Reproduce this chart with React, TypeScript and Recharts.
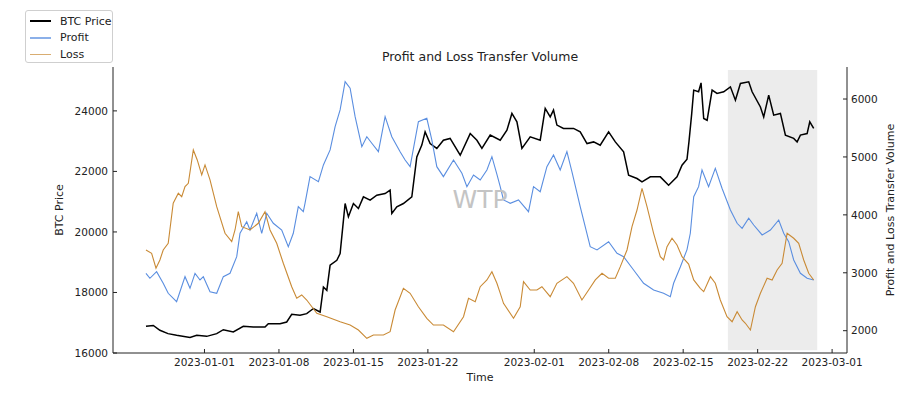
import React from "react";
import {
  ComposedChart,
  Line,
  XAxis,
  YAxis,
  Legend,
  ReferenceArea,
  ReferenceDot,
} from "recharts";

// x = Tage seit 2023-01-01
const btcDays = [
  -5.5, -4.81, -4.19, -3.43, -2.62, -1.36, -0.73, 0.21, 1.15, 1.77,
  2.71, 3.65, 4.59, 5.69, 6.0, 7.1, 7.73, 8.2, 8.98, 9.61,
  10.24, 10.87, 11.18, 11.5, 11.81, 12.44, 12.75, 13.0, 13.22, 13.53,
  14.0, 14.47, 14.94, 15.57, 16.2, 16.98, 17.45, 17.61, 18.08, 18.7,
  19.49, 19.96, 20.43, 20.74, 21.21, 21.84, 22.46, 23.09, 24.04, 24.98,
  25.61, 26.08, 26.86, 27.8, 28.43, 28.9, 29.37, 29.84, 30.62, 31.56,
  32.03, 32.5, 32.81, 33.13, 33.75, 34.69, 35.32, 35.96, 36.58, 37.2,
  37.99, 38.62, 39.4, 39.87, 40.66, 41.13, 41.91, 42.85, 43.63, 44.42,
  44.89, 45.36, 45.55, 45.8, 45.99, 46.45, 46.68, 46.93, 47.25, 47.72,
  48.18, 48.81, 49.44, 49.91, 50.38, 51.16, 51.48, 52.26, 52.57, 53.04,
  53.51, 54.14, 54.61, 55.39, 55.71, 56.02, 56.65, 56.9, 57.27,
];
const btcPrice = [
  16883, 16910, 16750, 16640, 16585, 16510, 16585, 16550, 16640, 16770,
  16695, 16880, 16860, 16860, 16970, 16970, 17025, 17280, 17245, 17300,
  17470, 17355, 18180, 18070, 18900, 19065, 19285, 20165, 20940, 20500,
  20940, 20775, 21160, 21050, 21215, 21270, 21380, 20610, 20830, 20940,
  21160, 22480, 22870, 23305, 22920, 22760, 23030, 23090, 22535, 23250,
  23030, 22760, 23200, 23030, 23360, 23915, 23640, 22760, 23140, 23030,
  24080, 23800, 24025, 23530, 23420, 23420, 23305, 22920, 22975, 22865,
  23305, 22975, 22645, 21875, 21765, 21655, 21820, 21820, 21545, 21820,
  22205, 22400, 23000, 23900, 24685, 24630, 24925, 23750, 23690, 24685,
  24575, 24630, 24795, 24355, 24905, 24960, 24630, 24130, 23800, 24520,
  23860, 23915, 23200, 23090, 22975, 23200, 23250, 23640, 23420,
];

const profitDays = [
  -5.5, -5.13, -4.5, -3.88, -3.41, -2.62, -1.83, -1.36, -0.89, -0.42,
  -0.11, 0.52, 1.15, 1.77, 2.4, 3.03, 3.34, 3.97, 4.28, 4.91,
  5.38, 5.85, 6.47, 7.26, 7.88, 8.35, 8.82, 9.29, 9.45, 9.92,
  10.71, 11.18, 11.81, 12.28, 12.75, 13.22, 13.69, 14.16, 14.79, 15.26,
  15.73, 16.35, 16.98, 17.61, 18.39, 18.86, 19.33, 20.11, 20.9, 21.37,
  21.84, 22.46, 23.41, 24.2, 24.67, 25.29, 25.92, 26.55, 27.02, 27.49,
  27.8, 28.11, 28.74, 29.52, 30.46, 30.93, 31.56, 32.19, 32.81, 33.44,
  34.07, 34.54, 35.32, 36.26, 36.9, 37.99, 38.78, 39.4, 40.34, 41.28,
  42.22, 43.16, 43.79, 44.1, 44.73, 45.36, 45.67, 45.99, 46.45, 46.77,
  47.39, 48.02, 48.65, 49.44, 50.07, 50.54, 51.16, 51.63, 52.42, 53.2,
  53.98, 54.45, 54.92, 55.39, 56.02, 56.65, 57.27,
];
const profitVol = [
  2991, 2905, 3019, 2819, 2646, 2501, 2933, 2732, 2991, 2876,
  2933, 2674, 2646, 2933, 2991, 3278, 3682, 3882, 3739, 4027,
  3682, 4027, 3855, 3739, 3451, 3682, 4141, 4055, 4200, 4660,
  4573, 4862, 5121, 5523, 5812, 6300, 6186, 5696, 5178, 5350,
  5236, 5091, 5696, 5350, 5091, 4948, 4832, 5609, 5668, 5293,
  4832, 4660, 4948, 4718, 4487, 4689, 4603, 4775, 5005, 4700,
  4487, 4257, 4200, 4257, 4055, 4487, 4400, 4832, 5034, 4775,
  5091, 4746, 4141, 3451, 3394, 3537, 3337, 3278, 3048, 2819,
  2703, 2646, 2587, 2819, 3100, 3400, 3682, 4314, 4487, 4775,
  4487, 4804, 4459, 4084, 3855, 3768, 3941, 3825, 3653, 3739,
  3912, 3682, 3537, 3221, 2991, 2905, 2876,
];

const lossDays = [
  -5.5, -4.97, -4.56, -4.19, -3.88, -3.41, -2.94, -2.46, -2.14, -1.83,
  -1.52, -1.05, -0.68, -0.26, 0.05, 0.52, 1.15, 1.93, 2.56, 2.87,
  3.18, 3.5, 4.28, 5.06, 5.69, 6.16, 6.79, 7.41, 8.2, 8.67,
  9.14, 9.61, 10.56, 11.5, 12.75, 13.69, 14.47, 15.26, 15.88, 16.82,
  17.45, 17.92, 18.7, 19.33, 20.11, 20.9, 21.52, 22.46, 23.41, 24.35,
  24.82, 25.45, 25.92, 26.55, 27.02, 27.49, 27.8, 28.11, 29.05, 29.68,
  29.99, 30.62, 31.25, 31.72, 32.5, 33.13, 34.07, 34.69, 35.48, 36.11,
  36.74, 37.37, 37.99, 38.62, 39.09, 39.72, 40.19, 40.66, 41.13, 41.6,
  42.22, 42.85, 43.16, 43.48, 43.95, 44.42, 44.89, 45.51, 45.99, 46.61,
  46.93, 47.56, 48.02, 48.49, 49.12, 49.6, 50.07, 50.54, 50.85, 51.32,
  51.79, 52.26, 52.89, 53.36, 53.83, 54.3, 54.77, 55.39, 55.86, 56.33,
  56.8, 57.27,
];
const lossVol = [
  3394, 3337, 3078, 3221, 3394, 3509, 4200, 4373, 4314, 4487,
  4545, 5121, 4948, 4689, 4862, 4603, 4141, 3682, 3537, 3739,
  4055, 3796, 3739, 3855, 4055, 3739, 3509, 3164, 2760, 2560,
  2617, 2530, 2300, 2242, 2155, 2098, 2012, 1869, 1926, 1926,
  1983, 2357, 2732, 2646, 2414, 2214, 2098, 2098, 1983, 2242,
  2560, 2501, 2760, 2876, 3019, 2820, 2650, 2473, 2214, 2414,
  2846, 2703, 2703, 2760, 2587, 2819, 2933, 2819, 2530, 2703,
  2876, 2991, 2905, 2905, 3106, 3394, 3796, 4084, 4459, 4141,
  3682, 3278, 3221, 3451, 3596, 3480, 3278, 3150, 2876, 2732,
  2674, 2933, 2819, 2530, 2242, 2155, 2328, 2185, 2128, 2012,
  2414, 2646, 2905, 2876, 3048, 3164, 3682, 3596, 3509, 3221,
  2991, 2876,
];

const seriesOrder = ["BTC Price", "Profit", "Loss"];
const xTicks = [0, 7, 14, 21, 31, 38, 45, 52, 59];
const btcTicks = [16000, 18000, 20000, 22000, 24000];
const volTicks = [2000, 3000, 4000, 5000, 6000];

const FONT = "'DejaVu Sans', sans-serif";
const TXT = "#222";

const btcData = btcDays.map((d, i) => ({ d, v: btcPrice[i] }));
const profitData = profitDays.map((d, i) => ({ d, v: profitVol[i] }));
const lossData = lossDays.map((d, i) => ({ d, v: lossVol[i] }));

function dayLabel(d: number): string {
  const dt = new Date(Date.UTC(2023, 0, 1) + Math.round(d) * 86_400_000);
  return dt.toISOString().slice(0, 10);
}

function LegendBox({ payload }: any) {
  const items = (payload || [])
    .slice()
    .sort(
      (a: any, b: any) =>
        seriesOrder.indexOf(a.value) - seriesOrder.indexOf(b.value)
    );
  return (
    <div
      style={{
        border: "1px solid #cfcfcf",
        borderRadius: 3,
        background: "#fff",
        width: 88,
        height: 53,
        boxSizing: "border-box",
        paddingTop: 2,
        fontFamily: FONT,
        fontSize: 11,
        color: TXT,
      }}
    >
      {items.map((p: any) => (
        <div
          key={p.value}
          style={{ display: "flex", alignItems: "center", height: 16.5 }}
        >
          <div
            style={{
              marginLeft: 4,
              width: 21,
              height: p.value === "BTC Price" ? 2 : 1.5,
              background: p.color,
              opacity: p.value === "BTC Price" ? 1 : 0.7,
            }}
          />
          <span style={{ marginLeft: 9 }}>{p.value}</span>
        </div>
      ))}
    </div>
  );
}

export default function App() {
  const tickStyle = { fontSize: 10.5, fill: TXT, fontFamily: FONT };
  return (
    <div
      style={{
        position: "absolute",
        left: 0,
        top: 0,
        width: 905,
        height: 393,
        background: "#fff",
        fontFamily: FONT,
      }}
    >
      <div
        style={{
          position: "absolute",
          left: 113,
          width: 734,
          top: 49,
          textAlign: "center",
          fontSize: 12.5,
          color: TXT,
        }}
      >
        Profit and Loss Transfer Volume
      </div>
      <ComposedChart
        width={905}
        height={393}
        margin={{ top: 67, right: 3, left: 53, bottom: 10 }}
      >
        <XAxis
          xAxisId="top"
          orientation="top"
          type="number"
          dataKey="d"
          domain={[-8.6, 60.4]}
          allowDataOverflow
          ticks={xTicks}
          height={0}
          tickSize={-4}
          tickFormatter={() => ""}
          stroke="#222"
        />
        <XAxis
          type="number"
          dataKey="d"
          domain={[-8.6, 60.4]}
          allowDataOverflow
          ticks={xTicks}
          interval={0}
          height={30}
          tickSize={-4}
          tickMargin={10}
          tickFormatter={dayLabel}
          tick={tickStyle}
          stroke="#222"
          label={{
            value: "Time",
            position: "insideBottom",
            offset: 2,
            style: { fontSize: 11, fill: TXT, fontFamily: FONT },
          }}
        />
        <YAxis
          yAxisId="btc"
          domain={[16000, 25450]}
          allowDataOverflow
          ticks={btcTicks}
          width={60}
          tickSize={-4}
          tickMargin={9}
          tick={tickStyle}
          stroke="#222"
          label={{
            value: "BTC Price",
            angle: -90,
            position: "insideLeft",
            offset: 6,
            style: { fontSize: 11, fill: TXT, fontFamily: FONT, textAnchor: "middle" },
          }}
        />
        <YAxis
          yAxisId="vol"
          orientation="right"
          domain={[1615, 6553]}
          allowDataOverflow
          ticks={volTicks}
          width={55}
          tickSize={-4}
          tickMargin={8}
          tick={tickStyle}
          stroke="#222"
          label={{
            value: "Profit and Loss Transfer Volume",
            angle: -90,
            position: "insideRight",
            offset: 12,
            style: { fontSize: 11, fill: TXT, fontFamily: FONT, textAnchor: "middle" },
          }}
        />
        <ReferenceArea
          yAxisId="btc"
          x1={49.2}
          x2={57.6}
          y1={16090}
          y2={25350}
          fill="#ececec"
          fillOpacity={1}
          stroke="none"
        />
        <ReferenceDot
          yAxisId="btc"
          x={25.9}
          y={21100}
          r={0}
          fill="none"
          stroke="none"
          label={{
            value: "WTP",
            position: "center",
            style: { fontSize: 25, fill: "#c4c4c4", fontFamily: FONT },
          }}
        />
        <Legend
          layout="vertical"
          align="center"
          verticalAlign="middle"
          content={<LegendBox />}
          wrapperStyle={{ position: "absolute", left: 25, top: 10, width: 88, height: 53 }}
        />
        <Line
          yAxisId="btc"
          data={btcData}
          dataKey="v"
          name="BTC Price"
          stroke="#000000"
          strokeWidth={1.5}
          dot={false}
          type="linear"
          isAnimationActive={false}
        />
        <Line
          yAxisId="vol"
          data={profitData}
          dataKey="v"
          name="Profit"
          stroke="#5a8ee0"
          strokeWidth={1.1}
          dot={false}
          type="linear"
          isAnimationActive={false}
        />
        <Line
          yAxisId="vol"
          data={lossData}
          dataKey="v"
          name="Loss"
          stroke="#c98a35"
          strokeWidth={1.1}
          dot={false}
          type="linear"
          isAnimationActive={false}
        />
      </ComposedChart>
    </div>
  );
}
